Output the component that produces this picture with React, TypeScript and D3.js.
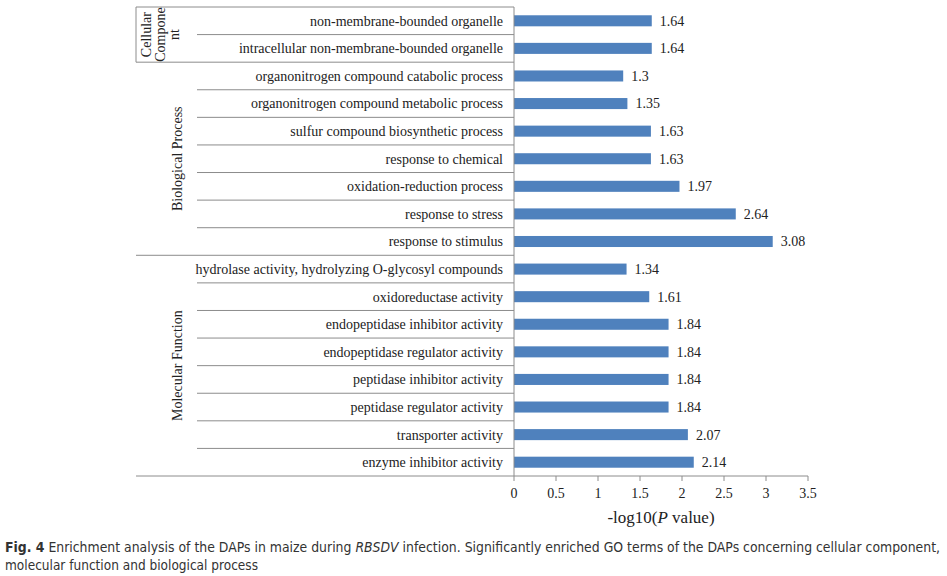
import React from "react";
import * as d3 from "d3";

const categories = [
  "non-membrane-bounded organelle",
  "intracellular non-membrane-bounded organelle",
  "organonitrogen compound catabolic process",
  "organonitrogen compound metabolic process",
  "sulfur compound biosynthetic process",
  "response to chemical",
  "oxidation-reduction process",
  "response to stress",
  "response to stimulus",
  "hydrolase activity, hydrolyzing O-glycosyl compounds",
  "oxidoreductase activity",
  "endopeptidase inhibitor activity",
  "endopeptidase regulator activity",
  "peptidase inhibitor activity",
  "peptidase regulator activity",
  "transporter activity",
  "enzyme inhibitor activity",
];
const values = [1.64, 1.64, 1.3, 1.35, 1.63, 1.63, 1.97, 2.64, 3.08, 1.34, 1.61, 1.84, 1.84, 1.84, 1.84, 2.07, 2.14];
const valueLabels = ["1.64", "1.64", "1.3", "1.35", "1.63", "1.63", "1.97", "2.64", "3.08", "1.34", "1.61", "1.84", "1.84", "1.84", "1.84", "2.07", "2.14"];
const groupNames = [["Cellular", "Compone", "nt"], ["Biological Process"], ["Molecular Function"]];
const groupStarts = [0, 2, 9];
const groupEnds = [2, 9, 17];
const xTicks = [0, 0.5, 1, 1.5, 2, 2.5, 3, 3.5];
const xTickLabels = ["0", "0.5", "1", "1.5", "2", "2.5", "3", "3.5"];

export default function App() {
  const W = 947, H = 576;
  const x = d3.scaleLinear().domain([0, 3.5]).range([514, 808]);
  const y = d3.scaleBand<number>().domain(d3.range(categories.length)).range([7, 476]).paddingInner(0.6).paddingOuter(0.3);
  const band = d3.scaleBand<number>().domain(d3.range(categories.length)).range([7, 476]);
  const serif = "'Liberation Serif', 'Times New Roman', serif";
  const lineColor = "#8c8c8c";
  const x0 = x(0);
  const groupLeft = 136;
  const innerLeft = 197;
  const fs = 14;

  return (
    <svg width={W} height={H} style={{ position: "absolute", left: 0, top: 0, background: "#fff" }} fontFamily={serif}>
      <rect width={W} height={H} fill="#fff" />
      {groupStarts.map((s, i) => (
        <line key={"gs" + i} x1={groupLeft} x2={x0} y1={band(s)!} y2={band(s)!} stroke={lineColor} strokeWidth={1} />
      ))}
      <line x1={groupLeft} x2={x0} y1={band.range()[1]} y2={band.range()[1]} stroke={lineColor} strokeWidth={1} />
      <line x1={groupLeft} x2={groupLeft} y1={band(groupStarts[0])!} y2={band(groupEnds[0])!} stroke={lineColor} strokeWidth={1} />
      {categories.map((c, i) => {
        if (groupStarts.includes(i)) return null;
        return <line key={"sep" + i} x1={innerLeft} x2={x0} y1={band(i)!} y2={band(i)!} stroke={lineColor} strokeWidth={1} />;
      })}
      {values.map((v, i) => (
        <rect key={"b" + i} x={x0} y={y(i)!} width={x(v) - x0} height={y.bandwidth()} fill="#4f81bd" />
      ))}
      {values.map((v, i) => (
        <text key={"v" + i} x={x(v) + 8} y={band(i)! + band.bandwidth() / 2} dy="0.35em" fontSize={fs} fill="#222">{valueLabels[i]}</text>
      ))}
      {categories.map((c, i) => (
        <text key={"c" + i} x={503} y={band(i)! + band.bandwidth() / 2} dy="0.35em" textAnchor="end" fontSize={fs} fill="#222">{c}</text>
      ))}
      {groupNames.map((lines, gi) => {
        const cy = (band(groupStarts[gi])! + (groupEnds[gi] < categories.length ? band(groupEnds[gi])! : band.range()[1])) / 2;
        const n = lines.length;
        const cx = n > 1 ? 160 : 177;
        return (
          <text key={"g" + gi} transform={`translate(${cx},${cy}) rotate(-90)`} textAnchor="middle" fontSize={14} fill="#222">
            {lines.map((l, li) => (
              <tspan key={li} x={0} y={(li - (n - 1) / 2) * 14} dy="0.35em">{l}</tspan>
            ))}
          </text>
        );
      })}
      <line x1={x0} x2={x0} y1={band.range()[0]} y2={band.range()[1]} stroke={lineColor} strokeWidth={1} />
      <line x1={x0} x2={x(3.5)} y1={476} y2={476} stroke={lineColor} strokeWidth={1} />
      {xTicks.map((t, i) => (
        <g key={"t" + i}>
          <line x1={x(t)} x2={x(t)} y1={476} y2={481} stroke={lineColor} strokeWidth={1} />
          <text x={x(t)} y={493} dy="0.35em" textAnchor="middle" fontSize={fs} fill="#222">{xTickLabels[i]}</text>
        </g>
      ))}
      <text x={x(1.75)} y={517} dy="0.35em" textAnchor="middle" fontSize={17} fill="#222">
        -log10(<tspan fontStyle="italic">P</tspan> value)
      </text>
      <g fontFamily="'DejaVu Sans Condensed', 'Liberation Sans Narrow', 'Open Sans', sans-serif" fontSize={14} fill="#333">
        <text x={5} y={552} textLength={935} lengthAdjust="spacingAndGlyphs">
          <tspan fontWeight="bold">Fig. 4</tspan> Enrichment analysis of the DAPs in maize during <tspan fontStyle="italic">RBSDV</tspan> infection. Significantly enriched GO terms of the DAPs concerning cellular component,
        </text>
        <text x={5} y={570} textLength={253} lengthAdjust="spacingAndGlyphs">molecular function and biological process</text>
      </g>
    </svg>
  );
}
